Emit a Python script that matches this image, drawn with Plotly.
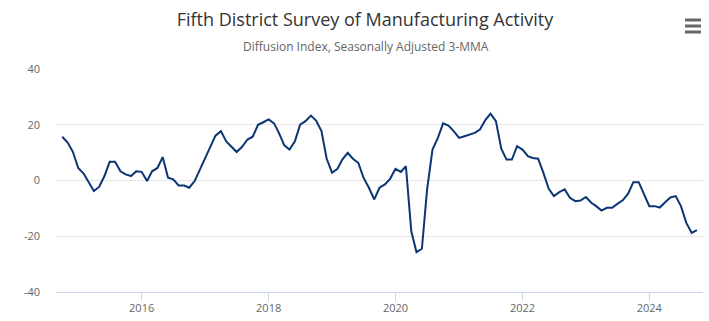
import plotly.graph_objects as go
import pandas as pd

title_text = "Fifth District Survey of Manufacturing Activity"
subtitle_text = "Diffusion Index, Seasonally Adjusted 3-MMA"

start_month = "2014-10-01"
values = [
    15.7, 13.6, 10.3, 4.5, 2.5, -0.6, -3.8, -2.3, 1.6, 6.7,
    6.7, 3.3, 2.2, 1.6, 3.3, 3.1, -0.2, 3.3, 4.5, 8.4,
    1.0, 0.4, -1.8, -1.8, -2.6, -0.2, 3.9, 7.8, 12.1, 16.1,
    17.7, 14.1, 12.1, 10.2, 12.1, 14.7, 15.7, 20.0, 20.9, 21.9,
    20.5, 17.1, 12.6, 11.1, 14.1, 20.0, 21.3, 23.3, 21.5, 17.7,
    7.8, 2.8, 4.2, 7.5, 9.9, 7.8, 6.3, 1.0, -2.6, -6.8,
    -2.6, -1.4, 0.6, 4.2, 3.1, 5.1, -18.2, -25.7, -24.5, -3.2,
    11.1, 15.3, 20.5, 19.7, 17.7, 15.3, 15.9, 16.5, 17.1, 18.3,
    21.7, 24.0, 21.3, 11.4, 7.5, 7.5, 12.3, 11.1, 8.7, 8.1,
    7.8, 2.8, -3.0, -5.6, -4.2, -3.2, -6.2, -7.4, -7.2, -5.9,
    -8.0, -9.2, -10.8, -9.8, -9.8, -8.4, -7.1, -4.7, -0.6, -0.6,
    -4.7, -9.2, -9.2, -9.7, -7.8, -6.1, -5.6, -9.2, -15.2, -18.8,
    -17.8,
]
dates = pd.date_range(start_month, periods=len(values), freq="MS")

x_tick_vals = ["2016-01-01", "2018-01-01", "2020-01-01", "2022-01-01", "2024-01-01"]
x_tick_text = ["2016", "2018", "2020", "2022", "2024"]
y_tick_vals = [-40, -20, 0, 20, 40]
y_tick_text = ["-40", "-20", "0", "20", "40"]

W, H = 709, 321
L, R, T, B = 56, 6, 69, 29

fig = go.Figure()
fig.add_trace(go.Scatter(
    x=dates, y=values, mode="lines",
    line=dict(color="#0c3574", width=2),
    hoverinfo="x+y", showlegend=False,
))

def px_x(px):
    return (px - L) / (W - L - R)

def px_y(py):
    return (H - B - py) / (H - T - B)

shapes = []
for yy in (20, 26, 32):
    shapes.append(dict(
        type="rect", xref="paper", yref="paper",
        x0=px_x(685), x1=px_x(701), y0=px_y(yy + 1.5), y1=px_y(yy - 1.5),
        fillcolor="#666666", line=dict(width=0),
    ))

fig.update_layout(
    width=W, height=H,
    margin=dict(l=L, r=R, t=T, b=B, pad=0),
    paper_bgcolor="white", plot_bgcolor="white",
    font=dict(family="Open Sans", color="#666666", size=11),
    title=dict(
        text=title_text, xref="container", x=365 / W, xanchor="center",
        yref="container", y=1 - 20 / H, yanchor="middle",
        font=dict(family="Open Sans", size=18, color="#333333"),
    ),
    annotations=[dict(
        text=subtitle_text, xref="paper", yref="paper",
        x=px_x(366), y=px_y(47), xanchor="center", yanchor="middle",
        showarrow=False, font=dict(family="Open Sans", size=12, color="#666666"),
    )],
    shapes=shapes,
    xaxis=dict(
        type="date", range=["2014-08-26", "2024-11-05"],
        tickvals=x_tick_vals, ticktext=x_tick_text,
        showgrid=False, zeroline=False,
        showline=True, linecolor="#ccd6eb", linewidth=1,
        ticks="outside", ticklen=8, tickcolor="#ccd6eb", tickwidth=1,
        ticklabelstandoff=-2,
        tickfont=dict(size=11, color="#666666"),
    ),
    yaxis=dict(
        range=[-40, 40], tickvals=y_tick_vals, ticktext=y_tick_text,
        showgrid=True, gridcolor="#e6e6e6", gridwidth=1,
        zeroline=False, showline=False, ticks="",
        ticklabelstandoff=15,
        tickfont=dict(size=11, color="#666666"),
    ),
)

fig.write_html("out.html")
